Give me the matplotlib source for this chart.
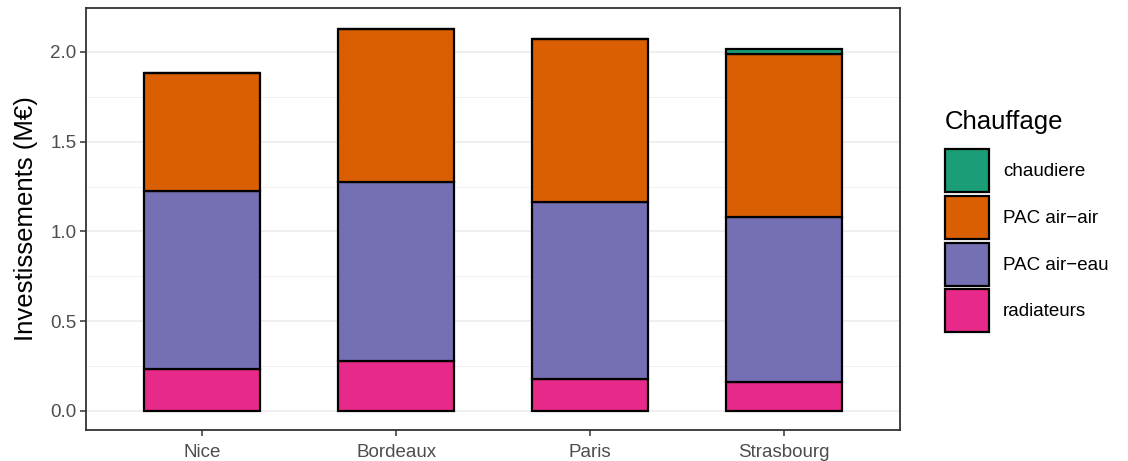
import matplotlib
matplotlib.use("Agg")
import matplotlib.pyplot as plt
from matplotlib.patches import Patch
import numpy as np

plt.rcParams["font.family"] = ["Liberation Sans", "DejaVu Sans"]

villes = ["Nice", "Bordeaux", "Paris", "Strasbourg"]
# stacked from bottom to top
radiateurs = [0.234, 0.279, 0.178, 0.162]
pac_air_eau = [0.992, 0.997, 0.986, 0.919]
pac_air_air = [0.657, 0.852, 0.908, 0.908]
chaudiere = [0.0, 0.0, 0.0, 0.026]

series = [
    ("radiateurs", radiateurs, "#E7298A"),
    ("PAC air\u2212eau", pac_air_eau, "#7570B3"),
    ("PAC air\u2212air", pac_air_air, "#D95F02"),
    ("chaudiere", chaudiere, "#1B9E77"),
]

fig = plt.figure(figsize=(11.28, 4.61), dpi=100)
ax = fig.add_axes([86 / 1128, 31 / 461, 814 / 1128, 422 / 461])

x = np.arange(1, len(villes) + 1)
bottom = np.zeros(len(villes))
for name, vals, col in series:
    vals = np.array(vals)
    ax.bar(x, vals, width=0.6, bottom=bottom, color=col, edgecolor="black",
           linewidth=1.6, zorder=3)
    bottom += vals

ax.set_xlim(0.4, 4.6)
ax.set_ylim(-0.1065, 2.245)
ax.set_xticks(x)
ax.set_xticklabels(villes)
ax.set_yticks([0.0, 0.5, 1.0, 1.5, 2.0])
ax.set_yticklabels(["0.0", "0.5", "1.0", "1.5", "2.0"])
ax.set_yticks([0.25, 0.75, 1.25, 1.75], minor=True)
ax.grid(axis="y", which="major", color="#EBEBEB", linewidth=1.1, zorder=0)
ax.grid(axis="y", which="minor", color="#EBEBEB", linewidth=0.55, zorder=0)
ax.tick_params(axis="both", which="major", colors="#333333", labelcolor="#4D4D4D",
               labelsize=13.5, length=4, width=1.1, pad=3)
ax.tick_params(axis="x", which="major", pad=6)
ax.tick_params(axis="y", which="minor", length=0)
for s in ax.spines.values():
    s.set_color("#333333")
    s.set_linewidth(1.3)
ax.set_ylabel("Investissements (M\u20ac)", fontsize=18.5, color="black", labelpad=9)

handles = [Patch(facecolor=col, edgecolor="black", linewidth=1.6, label=name)
           for name, _, col in series[::-1]]
leg = fig.legend(handles=handles, title="Chauffage", loc="upper left",
                 bbox_to_anchor=(945 / 1128, 1 - 110 / 461), frameon=False,
                 fontsize=13.5, title_fontsize=18.5,
                 handlelength=2.35, handleheight=3.15, labelspacing=0.2,
                 handletextpad=0.75, borderaxespad=0, borderpad=0)
leg._legend_box.align = "left"
leg._legend_box.sep = 11

fig.savefig("out.png", dpi=100)
